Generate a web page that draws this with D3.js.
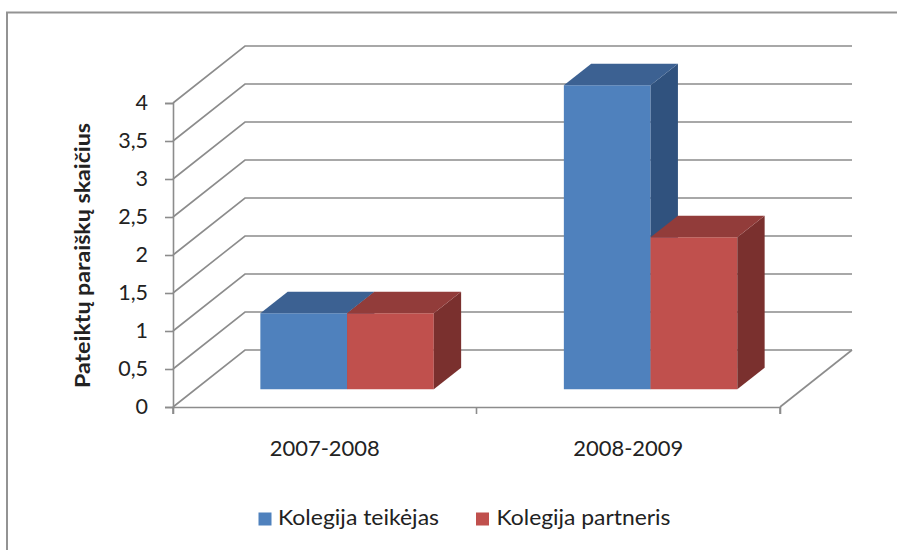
<!DOCTYPE html>
<html>
<head>
<meta charset="utf-8">
<script src="https://cdn.jsdelivr.net/npm/d3@7"></script>
<style>
  html, body { margin: 0; padding: 0; background: #fff; }
  svg { display: block; }
  text { font-family: Lato, "Open Sans", sans-serif; fill: #222; }
</style>
</head>
<body>
<svg id="chart" width="897" height="550"></svg>
<script>
// ---- data ----
const categories = ["2007-2008", "2008-2009"];
const seriesNames = ["Kolegija teikėjas", "Kolegija partneris"];
const teikejas = [1, 4];
const partneris = [1, 2];
const yTicks = [0, 0.5, 1, 1.5, 2, 2.5, 3, 3.5, 4];
const yTitle = "Pateiktų paraiškų skaičius";

const seriesValues = [teikejas, partneris];
const colors = [
  { front: "#4F81BD", top: "#3C6192", side: "#30527E" },
  { front: "#C0504D", top: "#923C3A", side: "#7A302E" }
];

const svg = d3.select("#chart");

// frame (only top and left edges visible)
svg.append("path")
  .attr("d", "M7,550 L7,12.5 L897,12.5")
  .attr("fill", "none").attr("stroke", "#939393").attr("stroke-width", 2);

// ---- 3D geometry ----
const frontLeft = 173, frontRight = 780;
const depthDX = 72, depthDY = -57;
const x0 = d3.scaleBand().domain(categories).range([frontLeft, frontRight]).padding(0);
const y = d3.scaleLinear().domain([0, 4]).range([407, 103]);
const B = x0.bandwidth();
const barW = B / 3.5;
const x1 = d3.scaleBand().domain(seriesNames).range([0.75 * barW, B - 0.75 * barW]).padding(0);
const dFront = 0.31, dBack = 0.69;
const P = (x, yy, d) => [x + depthDX * d, yy + depthDY * d];
const poly = pts => "M" + pts.map(p => p.join(",")).join("L") + "Z";

const gridColor = "#8C8C8C";
const grid = svg.append("g").attr("fill", "none").attr("stroke", gridColor).attr("stroke-width", 1.6);

// back wall + side wall gridlines
yTicks.forEach(t => {
  const a = P(frontLeft, y(t), 0), b = P(frontLeft, y(t), 1), c = P(frontRight, y(t), 1);
  grid.append("path").attr("d", `M${a}L${b}L${c}`);
});
// floor right edge
{
  const a = P(frontRight, y(0), 0), b = P(frontRight, y(0), 1);
  grid.append("path").attr("d", `M${a}L${b}`);
}

// value axis (front-left)
const yAxis = d3.axisLeft(y).tickValues(yTicks).tickSize(8).tickPadding(17)
  .tickFormat(d => String(d).replace(".", ","));
const gy = svg.append("g").attr("transform", `translate(${frontLeft},0)`).call(yAxis);
gy.select(".domain").attr("stroke", gridColor).attr("stroke-width", 1.6);
gy.selectAll(".tick line").attr("stroke", gridColor).attr("stroke-width", 1.6);
gy.selectAll(".tick text").attr("font-size", 21.5).attr("fill", "#222")
  .style("font-family", "Lato, sans-serif");

// category axis (front floor edge)
const xAxis = d3.axisBottom(x0).tickSize(7).tickFormat("").tickSizeOuter(7);
const gx = svg.append("g").attr("transform", `translate(0,${y(0)})`).call(xAxis);
gx.select(".domain").attr("stroke", gridColor).attr("stroke-width", 1.6);
gx.selectAll(".tick line").remove();
// ticks at band boundaries
const bounds = [frontLeft, ...categories.slice(1).map(c => x0(c)), frontRight];
gx.selectAll(".bt").data(bounds).enter().append("line")
  .attr("x1", d => d).attr("x2", d => d).attr("y1", 0).attr("y2", 7)
  .attr("stroke", gridColor).attr("stroke-width", 1.6);
// category labels
svg.selectAll(".cat").data(categories).enter().append("text")
  .attr("x", d => x0(d) + B / 2).attr("y", 456)
  .attr("text-anchor", "middle").attr("font-size", 21.5)
  .attr("textLength", 110).attr("lengthAdjust", "spacingAndGlyphs")
  .text(d => d);

// ---- bars ----
const bars = svg.append("g");
categories.forEach((cat, ci) => {
  seriesNames.forEach((s, si) => {
    const v = seriesValues[si][ci];
    const xl = x0(cat) + x1(s), xr = xl + x1.bandwidth();
    const yb = y(0), yt = y(v);
    const col = colors[si];
    // front
    bars.append("path").attr("fill", col.front)
      .attr("d", poly([P(xl, yt, dFront), P(xr, yt, dFront), P(xr, yb, dFront), P(xl, yb, dFront)]));
    // side (right)
    bars.append("path").attr("fill", col.side)
      .attr("d", poly([P(xr, yt, dFront), P(xr, yt, dBack), P(xr, yb, dBack), P(xr, yb, dFront)]));
    // top
    bars.append("path").attr("fill", col.top)
      .attr("d", poly([P(xl, yt, dFront), P(xr, yt, dFront), P(xr, yt, dBack), P(xl, yt, dBack)]));
  });
});

// ---- axis title ----
svg.append("text")
  .attr("transform", "translate(89.5,255.5) rotate(-90)")
  .attr("text-anchor", "middle").attr("font-size", 20).attr("font-weight", "bold")
  .attr("textLength", 265).attr("lengthAdjust", "spacingAndGlyphs")
  .text(yTitle);

// ---- legend ----
const legendItems = [
  { name: seriesNames[0], color: colors[0].front, sx: 258.5, tx: 278, w: 161 },
  { name: seriesNames[1], color: colors[1].front, sx: 476, tx: 496.5, w: 174 }
];
const lg = svg.append("g");
lg.selectAll("rect").data(legendItems).enter().append("rect")
  .attr("x", d => d.sx).attr("y", 512.5).attr("width", 13).attr("height", 13)
  .attr("fill", d => d.color);
lg.selectAll("text").data(legendItems).enter().append("text")
  .attr("x", d => d.tx).attr("y", 524.5).attr("font-size", 21)
  .attr("textLength", d => d.w).attr("lengthAdjust", "spacingAndGlyphs")
  .text(d => d.name);
</script>
</body>
</html>
